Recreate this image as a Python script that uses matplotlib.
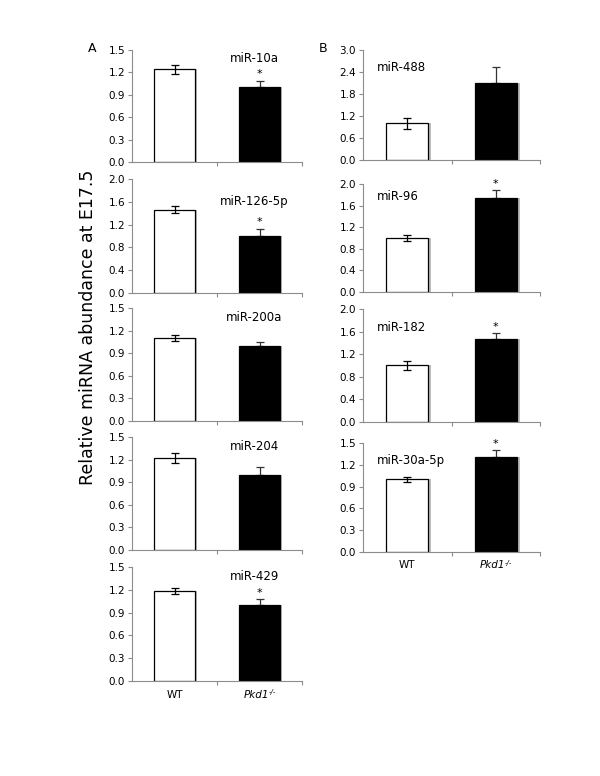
import matplotlib
matplotlib.use("Agg")
import matplotlib.pyplot as plt

groups = ["WT", "Pkd1"]
group_sup = ["", "-/-"]

a_names = ["miR-10a", "miR-126-5p", "miR-200a", "miR-204", "miR-429"]
a_vals = [[1.24, 1.00], [1.46, 1.00], [1.10, 1.00], [1.22, 1.00], [1.18, 1.00]]
a_errs = [[0.06, 0.09], [0.065, 0.13], [0.035, 0.05], [0.07, 0.10], [0.04, 0.08]]
a_star = [True, True, False, False, True]
a_ymax = [1.5, 2.0, 1.5, 1.5, 1.5]
a_step = [0.3, 0.4, 0.3, 0.3, 0.3]

b_names = ["miR-488", "miR-96", "miR-182", "miR-30a-5p"]
b_vals = [[1.00, 2.10], [1.00, 1.75], [1.00, 1.47], [1.00, 1.31]]
b_errs = [[0.15, 0.44], [0.055, 0.13], [0.08, 0.10], [0.035, 0.09]]
b_star = [False, True, True, True]
b_ymax = [3.0, 2.0, 2.0, 1.5]
b_step = [0.6, 0.4, 0.4, 0.3]

W, H = 600, 776
fig = plt.figure(figsize=(6.0, 7.76), dpi=100)

def ax_at(x0, x1, ytop, ybot):
    return fig.add_axes([x0 / W, 1 - ybot / H, (x1 - x0) / W, (ybot - ytop) / H])

a_rows = [(50, 162), (179, 293), (308, 421), (437, 550), (567, 681)]
b_rows = [(50, 160), (184, 292), (309, 422), (443, 552)]

GRAY = "#8c8c8c"

def draw(ax, name, vals, errs, star, ymax, step, title_xy, title_ha, show_x):
    xs = [0, 1]
    bw = 0.48
    ax.bar([x + 0.03 for x in xs], vals, width=bw, color="#bdbdbd", zorder=1, linewidth=0)
    ax.bar(xs, vals, width=bw, color=["white", "black"], edgecolor="black",
           linewidth=0.9, zorder=2)
    # WT: symmetric error bar; mutant: upper half only (lower hidden by black bar)
    ax.errorbar([0], [vals[0]], yerr=[errs[0]], fmt="none", ecolor="black",
                elinewidth=0.9, capsize=3, capthick=0.9, zorder=3)
    ax.errorbar([1], [vals[1]], yerr=[[0], [errs[1]]], fmt="none", ecolor="#333333",
                elinewidth=0.9, capsize=3, capthick=0.9, zorder=1.5)
    if star:
        ax.text(1, vals[1] + errs[1] + ymax * 0.01, "*", ha="center", va="bottom",
                fontsize=8, zorder=4)
    ax.set_xlim(-0.5, 1.5)
    ax.set_ylim(0, ymax)
    n = int(round(ymax / step))
    ticks = [round(i * step, 2) for i in range(n + 1)]
    ax.set_yticks(ticks)
    ax.set_yticklabels([f"{t:.1f}" for t in ticks], fontsize=7.5)
    ax.set_xticks([0.5, 1.5])
    ax.set_xticklabels(["", ""])
    ax.tick_params(axis="x", length=3, color=GRAY, direction="out")
    ax.tick_params(axis="y", length=3, color=GRAY, direction="out", pad=2)
    for s in ["top", "right"]:
        ax.spines[s].set_visible(False)
    for s in ["left", "bottom"]:
        ax.spines[s].set_color(GRAY)
        ax.spines[s].set_linewidth(0.8)
    ax.text(title_xy[0], title_xy[1], name, transform=ax.transAxes, ha=title_ha,
            va="center", fontsize=8.5)
    if show_x:
        ax.text(0, -0.12, groups[0], transform=ax.get_xaxis_transform(),
                ha="center", va="center", fontsize=7.5)
        t1 = ax.text(0.96, -0.12, groups[1], transform=ax.get_xaxis_transform(),
                     ha="center", va="center", fontsize=7.5, style="italic")
        ax.annotate(group_sup[1], xy=(1.0, 0.75), xycoords=t1, ha="left", va="center",
                    fontsize=5, style="italic")

for i in range(5):
    ax = ax_at(132, 302, *a_rows[i])
    draw(ax, a_names[i], a_vals[i], a_errs[i], a_star[i], a_ymax[i], a_step[i],
         (0.72, 0.92 if i != 1 else 0.80), "center", i == 4)

for i in range(4):
    ax = ax_at(363, 540, *b_rows[i])
    draw(ax, b_names[i], b_vals[i], b_errs[i], b_star[i], b_ymax[i], b_step[i],
         (0.08, 0.84 if i != 1 else 0.88), "left", i == 3)

fig.text(92 / W, 1 - 48 / H, "A", fontsize=9, ha="center", va="center")
fig.text(323 / W, 1 - 48 / H, "B", fontsize=9, ha="center", va="center")
fig.text(88 / W, 1 - 327 / H, "Relative miRNA abundance at E17.5", rotation=90,
         fontsize=12.5, ha="center", va="center")

fig.savefig("out.png", dpi=100)
